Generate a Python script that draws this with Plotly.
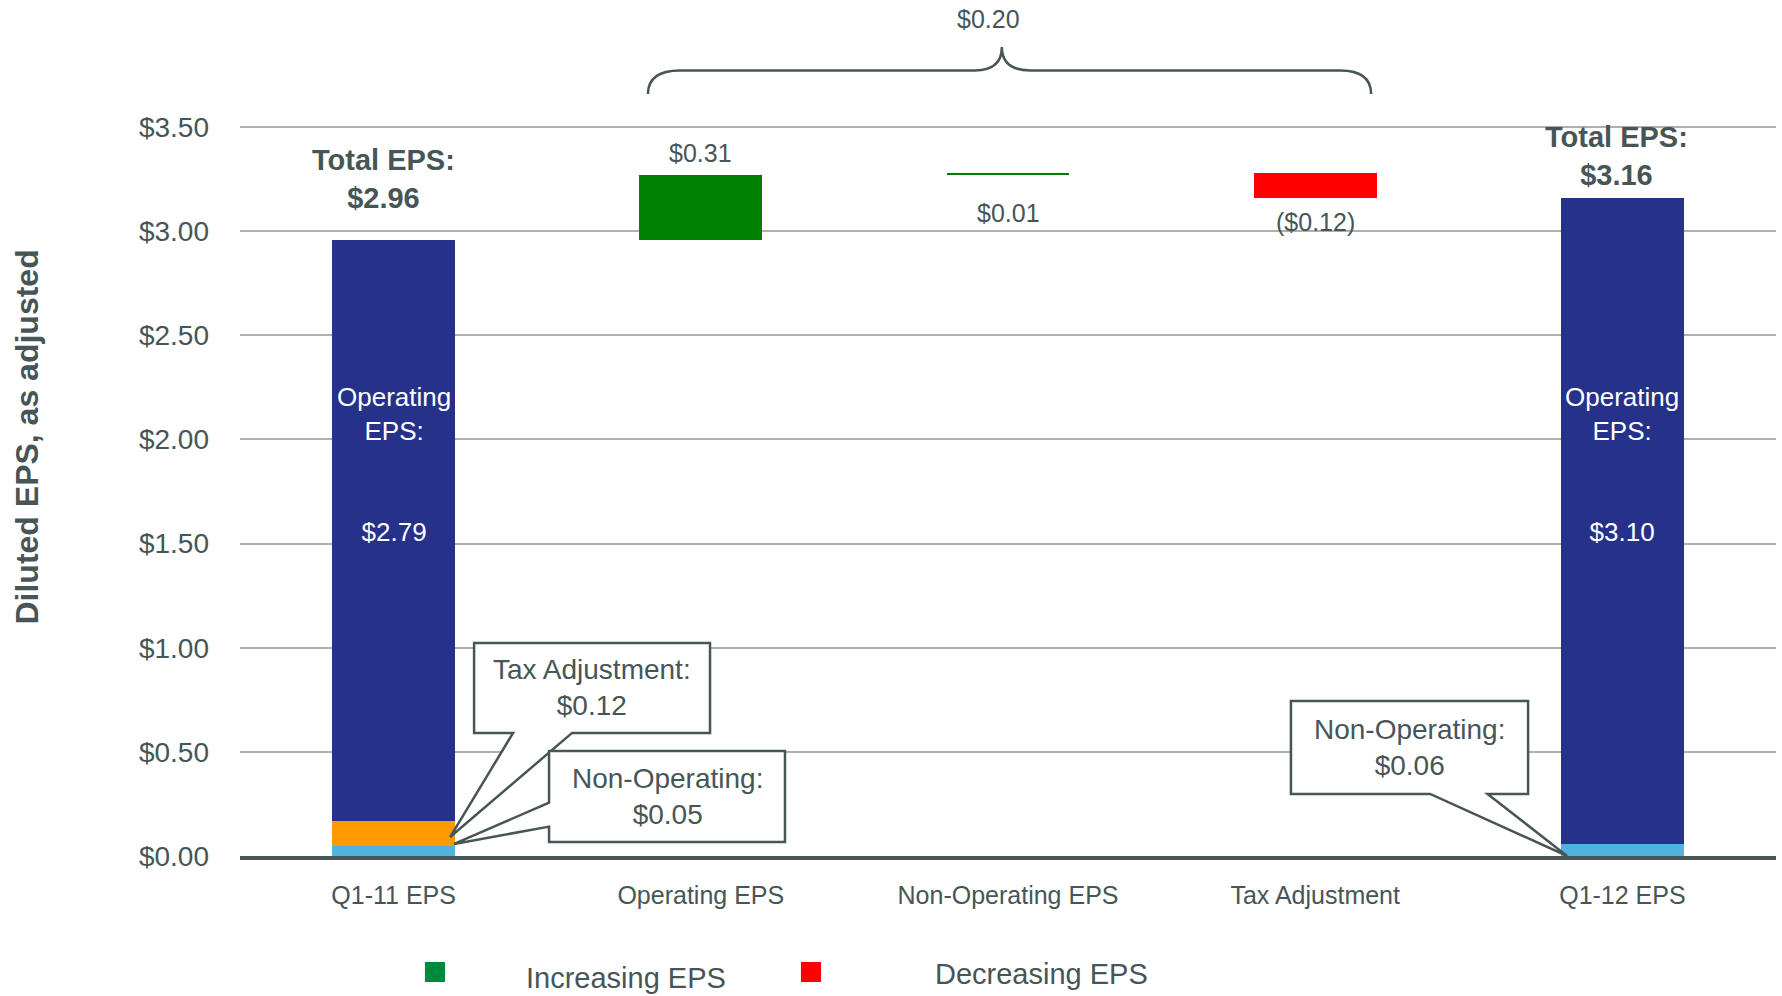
import numpy as np
import plotly.graph_objects as go

# ---- data -------------------------------------------------------------
categories = ["Q1-11 EPS", "Operating EPS", "Non-Operating EPS", "Tax Adjustment", "Q1-12 EPS"]

# components of the opening and closing EPS columns (bottom to top)
part_names = ["Non-Operating", "Tax Adjustment", "Operating"]
q1_11_parts = [0.05, 0.12, 2.79]
q1_12_parts = [0.06, 0.00, 3.10]
part_colors = ["#4FB3DE", "#FF9900", "#26318A"]

# bridge steps between the two quarters
delta_values = [0.31, 0.01, -0.12]
delta_labels = ["$0.31", "$0.01", "($0.12)"]

totals = [2.96, 3.16]
net_change_label = "$0.20"

y_ticks = [0.0, 0.5, 1.0, 1.5, 2.0, 2.5, 3.0, 3.5]
y_tick_labels = [f"${v:.2f}" for v in y_ticks]

# ---- style ------------------------------------------------------------
FONT = "Arial, 'Liberation Sans', sans-serif"
TEXT = "#475557"
GRID = "#B0B0A8"
UP = "#008000"
DOWN = "#FF0000"
BAR_W = 0.4

fig = go.Figure()

# stacked opening / closing columns
stack_cols = [(0, q1_11_parts), (4, q1_12_parts)]
for k, name in enumerate(part_names):
    xs, ys, bases = [], [], []
    for col, parts in stack_cols:
        if parts[k] > 0:
            xs.append(col)
            ys.append(parts[k])
            bases.append(float(np.sum(parts[:k])))
    fig.add_trace(go.Bar(
        x=xs, y=ys, base=bases, width=BAR_W, name=name,
        marker=dict(color=part_colors[k], line=dict(width=0)),
        showlegend=False, hoverinfo="skip",
    ))

# floating bridge bars
running = totals[0] + np.cumsum(delta_values)
delta_bases = np.concatenate([[totals[0]], running[:-1]])
delta_x = [1, 2, 3]
fig.add_trace(go.Bar(
    x=delta_x, y=delta_values, base=delta_bases, width=BAR_W,
    marker=dict(color=[UP if v > 0 else DOWN for v in delta_values], line=dict(width=0)),
    showlegend=False, hoverinfo="skip",
))

annotations = []


def note(**kw):
    kw.setdefault("showarrow", False)
    kw.setdefault("xanchor", "center")
    kw.setdefault("yanchor", "middle")
    annotations.append(kw)


# total labels above the end columns
for col, total, xs, ys in [(0, totals[0], -10, 24), (4, totals[1], -6, 5)]:
    note(x=col, y=total, xref="x", yref="y", text=f"<b>Total EPS:<br>${total:.2f}</b>",
         yanchor="bottom", xshift=xs, yshift=ys,
         font=dict(size=29, color=TEXT, family=FONT))

# operating EPS labels inside the navy segments
for col, parts in stack_cols:
    note(x=col, y=1.88, xref="x", yref="y",
         text=f"Operating<br>EPS:<br><br><br>${parts[2]:.2f}",
         font=dict(size=26, color="white", family=FONT))

# bridge step labels
for x, base, v, lab in zip(delta_x, delta_bases, delta_values, delta_labels):
    f = dict(size=25, color=TEXT, family=FONT)
    if x == 1:
        note(x=x, y=base + v, xref="x", yref="y", text=lab, yanchor="bottom", yshift=6, font=f)
    elif v > 0:
        note(x=x, y=base, xref="x", yref="y", text=lab, yanchor="top", yshift=-22, font=f)
    else:
        note(x=x, y=base + v, xref="x", yref="y", text=lab, yanchor="top", yshift=-8, font=f)

# net change label over the brace
note(x=1.935, y=4.02, xref="x", yref="y", text=net_change_label,
     font=dict(size=25, color=TEXT, family=FONT))

shapes = []

# curly brace spanning the bridge steps
brace = ("M 0.828,3.659 Q 0.828,3.772 0.932,3.772 L 1.893,3.772 "
         "Q 1.980,3.772 1.980,3.884 Q 1.980,3.772 2.072,3.772 "
         "L 3.081,3.772 Q 3.182,3.772 3.182,3.659")
shapes.append(dict(type="path", path=brace, xref="x", yref="y",
                   line=dict(color=TEXT, width=2.5)))

# callout boxes with pointer tails
callouts = [
    # (outline path, text, text x, text y)
    ("M 0.262,1.023 L 1.030,1.023 L 1.030,0.591 L 0.581,0.591 L 0.184,0.091 "
     "L 0.389,0.591 L 0.262,0.591 Z",
     f"Tax Adjustment:<br>${q1_11_parts[1]:.2f}", 0.646, 0.807),
    ("M 0.506,0.504 L 1.274,0.504 L 1.274,0.067 L 0.506,0.067 L 0.506,0.141 "
     "L 0.197,0.058 L 0.506,0.256 Z",
     f"Non-Operating:<br>${q1_11_parts[0]:.2f}", 0.890, 0.286),
    ("M 2.921,0.744 L 3.693,0.744 L 3.693,0.298 L 3.561,0.298 L 3.820,0.000 "
     "L 3.374,0.298 L 2.921,0.298 Z",
     f"Non-Operating:<br>${q1_12_parts[0]:.2f}", 3.307, 0.521),
]
for path, txt, tx, ty in callouts:
    shapes.append(dict(type="path", path=path, xref="x", yref="y", layer="above",
                       fillcolor="white", line=dict(color=TEXT, width=2.5)))
    note(x=tx, y=ty, xref="x", yref="y", text=txt,
         font=dict(size=28, color=TEXT, family=FONT))

# legend swatches and labels below the axis
legend_items = [("Increasing EPS", "#00893D", 0.1204, 0.2513, -0.1425),
                ("Decreasing EPS", DOWN, 0.3652, 0.5215, -0.1379)]
for label, color, sx, tx, ty in legend_items:
    shapes.append(dict(type="rect", xref="paper", yref="paper",
                       x0=sx, x1=sx + 0.0131, y0=-0.1472, y1=-0.1238,
                       fillcolor=color, line=dict(width=0)))
    note(x=tx, y=ty, xref="paper", yref="paper", text=label,
         font=dict(size=29, color=TEXT, family=FONT))

# y axis title
note(x=-0.1387, y=0.49, xref="paper", yref="paper",
     text="<b>Diluted EPS, as adjusted</b>", textangle=-90,
     font=dict(size=32, color=TEXT, family=FONT))

fig.update_layout(
    width=1782, height=996,
    margin=dict(l=240, r=6, t=0, b=140),
    paper_bgcolor="white", plot_bgcolor="white",
    barmode="overlay", bargap=0,
    font=dict(family=FONT, color=TEXT),
    shapes=shapes, annotations=annotations,
    showlegend=False,
)
fig.update_xaxes(
    range=[-0.5, 4.5], tickvals=list(range(len(categories))), ticktext=categories,
    showgrid=False, zeroline=False, showline=True, linecolor=TEXT, linewidth=4,
    ticks="", ticklabelstandoff=14, tickfont=dict(size=25, color=TEXT, family=FONT),
)
fig.update_yaxes(
    range=[0, 4.11], tickvals=y_ticks, ticktext=y_tick_labels,
    showgrid=True, gridcolor=GRID, gridwidth=1.5, zeroline=False, showline=False,
    ticks="", ticklabelstandoff=30, tickfont=dict(size=28, color=TEXT, family=FONT),
)

fig.write_html("out.html")
